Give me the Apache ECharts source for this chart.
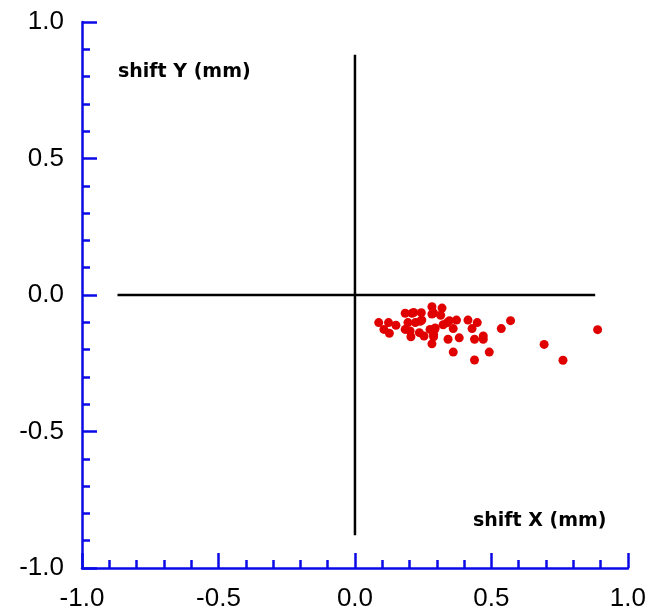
<!DOCTYPE html>
<html>
<head>
<meta charset="utf-8">
<script src="https://cdn.jsdelivr.net/npm/echarts@6/dist/echarts.min.js"></script>
<style>html,body{margin:0;padding:0;background:#fff;}#c{width:649px;height:614px;}</style>
</head>
<body>
<div id="c"></div>
<script>
const xTicks = [-1.0, -0.5, 0.0, 0.5, 1.0];
const yTicks = [-1.0, -0.5, 0.0, 0.5, 1.0];
const shiftX = [0.087,0.123,0.150,0.106,0.126,0.184,0.184,0.209,0.194,0.221,0.205,0.243,0.245,0.236,0.253,0.282,0.282,0.319,0.314,0.275,0.292,0.288,0.282,0.323,0.346,0.372,0.360,0.341,0.382,0.360,0.414,0.448,0.429,0.438,0.470,0.470,0.438,0.492,0.536,0.570,0.693,0.762,0.889,0.288,0.239,0.337,0.294,0.288,0.215,0.202];
const shiftY = [-0.101,-0.101,-0.111,-0.126,-0.140,-0.126,-0.067,-0.067,-0.101,-0.101,-0.153,-0.065,-0.092,-0.138,-0.150,-0.043,-0.070,-0.048,-0.074,-0.126,-0.126,-0.153,-0.179,-0.109,-0.094,-0.092,-0.123,-0.162,-0.157,-0.209,-0.092,-0.101,-0.123,-0.162,-0.150,-0.162,-0.238,-0.209,-0.123,-0.094,-0.181,-0.239,-0.127,-0.066,-0.096,-0.102,-0.121,-0.145,-0.064,-0.132];
const crossH = [[-0.87, 0], [0.88, 0]];
const crossV = [[0, 0.88], [0, -0.88]];
const xLabel = 'shift X (mm)';
const yLabel = 'shift Y (mm)';

const pts = shiftX.map((x, i) => [x, shiftY[i]]);
const blue = '#0a0ae6';
function axis(ticks, margin) {
  return {
    type: 'value', min: ticks[0], max: ticks[ticks.length - 1], interval: 0.5,
    axisLine: { show: true, onZero: false, lineStyle: { color: blue, width: 2.5 } },
    axisTick: { show: true, inside: true, length: 15, lineStyle: { color: blue, width: 2.5 } },
    minorTick: { show: true, splitNumber: 5, length: 8, lineStyle: { color: blue, width: 2.5 } },
    splitLine: { show: false },
    axisLabel: { color: '#000', fontFamily: 'Liberation Sans', fontSize: 26, margin: margin,
      formatter: v => v.toFixed(1) }
  };
}
const chart = echarts.init(document.getElementById('c'), null, { renderer: 'canvas' });
chart.setOption({
  animation: false,
  backgroundColor: '#fff',
  grid: { left: 82, right: 21, top: 22, bottom: 46, containLabel: false },
  xAxis: axis(xTicks, 18),
  yAxis: axis(yTicks, 18),
  series: [
    { type: 'line', data: crossH, symbol: 'none', lineStyle: { color: '#000', width: 2.5 }, silent: true },
    { type: 'line', data: crossV, symbol: 'none', lineStyle: { color: '#000', width: 2.5 }, silent: true },
    { type: 'scatter', data: pts, symbol: 'circle', symbolSize: 9, itemStyle: { color: '#e00000', opacity: 1 } }
  ],
  graphic: [
    { type: 'text', x: 118, y: 72, style: { text: yLabel, font: 'bold 19px "DejaVu Sans"', fill: '#000', verticalAlign: 'middle' } },
    { type: 'text', x: 473, y: 521, style: { text: xLabel, font: 'bold 19px "DejaVu Sans"', fill: '#000', verticalAlign: 'middle' } }
  ]
});
</script>
</body>
</html>
